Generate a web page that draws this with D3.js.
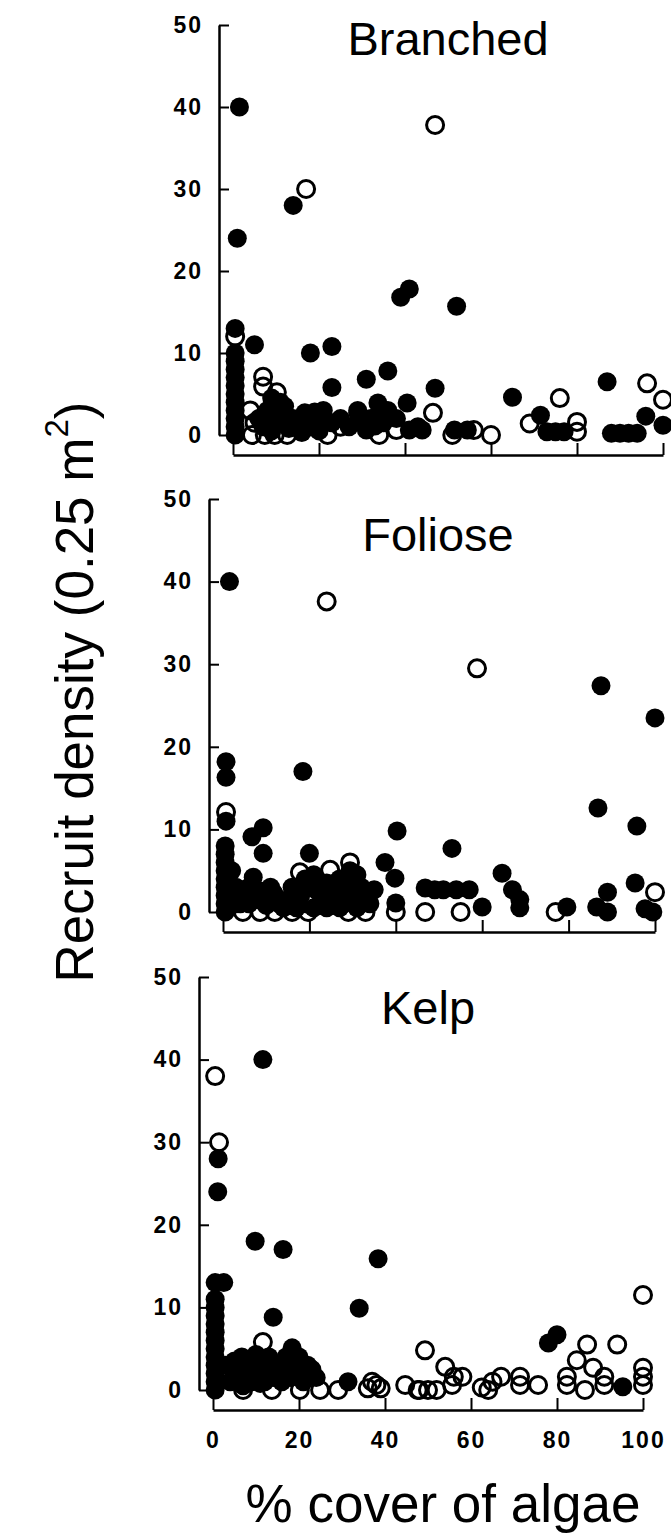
<!DOCTYPE html>
<html>
<head>
<meta charset="utf-8">
<script src="https://cdn.jsdelivr.net/npm/d3@7"></script>
<style>
  body { margin: 0; background: #fff; }
  svg { display: block; }
  .axis path, .axis line { stroke: #000; }
  .axis path { stroke-width: 2.5px; }
  .axis line { stroke-width: 2px; }
  .axis text { font-family: "Liberation Sans", Arial, sans-serif; font-weight: bold;
               font-size: 23px; letter-spacing: 2px; fill: #000; }
  .title { font-family: "Liberation Sans", Arial, sans-serif; font-size: 47px; fill: #000; }
  .label { font-family: "Liberation Sans", Arial, sans-serif; font-size: 53px; fill: #000; }
</style>
</head>
<body>
<script>

// ---- data: [% cover, recruit density] ----

var branchedFilled = [
  [0.5,0],[0.5,1],[0.5,2],[0.5,3],[0.5,4],[0.5,5],[0.5,6],[0.5,7],[0.5,8],[0.5,9],[0.5,10],[0.5,13],
  [1.5,40],[1,24],[14,28],[5,11],[18,10],[23,10.8],[23,5.8],[31,6.8],[36,7.8],
  [39,16.8],[41,17.8],[52,15.7],[47,5.7],[65,4.6],[87,6.5],[96,2.3],[100,1.2],
  [71.5,2.4],[73,0.4],[75,0.4],[77,0.4],[88,0.2],[90,0.2],[92,0.2],[94,0.2],
  [40.5,3.9],[41,0.6],[43,1],[44,0.6],[29,2.7],[33.7,3.9],[33,1.1],[31,0.6],[51.5,0.6],[54.5,0.6],
  [6,2],[8,3],[10,1.5],[12,2.5],[9,0.5],[13,0.8],[11,4],[7,1],[9,4.5],[12,3.5],[14,2],
  [15,1.5],[16.7,2.7],[19,2.8],[21,3],[21,1.5],[20,0.5],[16,0.3],[25,2],[27,1],[29,3],
  [18,1],[23,1.5],[30,1.5],[32,2],[35,1.5],[36,3],[34,2.5],[38,2]
];
var branchedOpen = [
  [0.5,12],[17,30],[47,37.8],[7,7.1],[7,5.9],[10.2,5.2],[4,3],[4.4,0],[7.4,0],[9.7,0],[12.6,0],
  [8,2],[12,1.5],[5,1.5],[25,1],[22,0],[38,0.6],[34,0],[46.5,2.7],[51,0],[56,0.6],[60,0],
  [69,1.4],[76,4.5],[80,1.6],[80,0.4],[96.3,6.3],[100,4.3]
];

var folioseFilled = [
  [0.5,0],[0.5,1],[0.5,2],[0.5,3],[0.5,4],[0.5,5],[0.5,6],[0.5,7],[0.5,8],
  [0.7,11],[0.7,16.3],[0.7,18.2],[1.5,40],
  [18.5,17],[9.3,10.2],[6.7,9.1],[9.3,7.1],[7,4.2],[20,7.1],[29.4,5],[29.4,3.8],
  [37.5,6],[39.8,4.1],[35,2.7],[40,1.1],[40.3,9.8],[53,7.7],[46.8,2.9],[49,2.7],[51,2.7],
  [54,2.7],[57,2.7],[60,0.6],[64.6,4.7],[67,2.7],[68.7,1.5],[68.7,0.5],[79.6,0.6],
  [87.5,27.4],[100,23.5],[86.8,12.6],[95.8,10.4],[89,2.4],[86.5,0.6],[89,0],[95.4,3.5],
  [97.7,0.4],[99.5,0],
  [3,3],[5,2],[8,1.5],[10,0.8],[13,1],[15,1.5],[18,2],[20,3],[22,2.5],[24,3.5],[26,2],
  [28,1],[30,2],[32,1],[14,0.5],[24,0.5],[12,2],[27,4],[31,4.5],[25,1.2],[4,1],[2,5],
  [6,3],[9,2.5],[11,3],[16,3],[19,4],[21,4.5],[23,2],[26,3.5],[28,3],[30,3],[32,3],
  [33,2],[34,1],[17,0.5],[21,0.5],[27,0.5],[31,0.5],[6,1],[3,1],[2,2.5]
];
var folioseOpen = [
  [0.7,12.1],[24,37.6],[58.8,29.5],[17.8,4.8],[24.8,5.1],[29.4,6],[11.6,2.3],
  [4.6,0],[8.6,0],[12,0],[16,0],[19.7,0],[29,0],[33,0],[17,1],[19.6,1],
  [40,0],[46.8,0],[55,0],[77,0],[100,2.4]
];

var kelpFilled = [
  [0.5,0],[0.5,1],[0.5,2],[0.5,3],[0.5,4],[0.5,5],[0.5,6],[0.5,7],[0.5,8],[0.5,9],[0.5,10],[0.5,11],[0.5,13],
  [2.5,13],[1.2,28],[1.1,24],[11.6,40],[9.8,18],[16.3,17],[38.4,15.9],[34,9.9],[14,8.8],
  [78,5.7],[80,6.7],[95.3,0.4],[31.4,1],
  [6.7,4],[18.4,5.1],[22,3],[12,3],[16,3],[5,2],[8,3],[10,2],[14,1.5],[18,1.5],[20,2],
  [4,1],[9,1],[13,4],[17,4],[24,1.5],[7,0.5],[11,0.8],
  [3,3],[5,3.5],[7,2.5],[9,3],[11,2],[12,1],[15,2.5],[16,1],[19,3],[21,1],[23,2.5],[20,4],[10,4.3]
];
var kelpOpen = [
  [0.5,38],[1.4,30],[11.6,5.8],[100,11.5],[49.3,4.8],[87,5.5],[94,5.5],[84.6,3.6],[88.4,2.7],
  [91,1.6],[91,0.6],[100,2.7],[100,1.6],[100,0.6],[82.3,1.6],[82.3,0.6],[86.5,0],
  [54,2.8],[56,1.6],[58,1.6],[55.6,0.6],[48,0],[50,0],[52,0],[62.5,0.3],[64,0],[65,1],
  [67,1.6],[71.4,1.6],[71.4,0.6],[75.6,0.6],[7,0],[13.7,0],[20.2,0],[24.9,0],[29.1,0],
  [36,0.2],[37,1],[39,0.2],[38,0.6],[44.7,0.6],[47.6,0]
];

var panelNames = ['Branched', 'Foliose', 'Kelp'];
var xTicks = [0, 20, 40, 60, 80, 100];
var yTicks = [0, 10, 20, 30, 40, 50];
var xLabel = '% cover of algae';

// ---- layout (pixel placement of each panel) ----
var layout = [
  { filled: branchedFilled, open: branchedOpen, x0: 233, x1: 663, y0: 435, y1: 25,  titleX: 448, titleY: 55 },
  { filled: folioseFilled,  open: folioseOpen,  x0: 223, x1: 655, y0: 912, y1: 499, titleX: 438, titleY: 551 },
  { filled: kelpFilled,     open: kelpOpen,     x0: 213, x1: 643, y0: 1390, y1: 977, titleX: 428, titleY: 1024 }
];

var width = 671, height = 1540;

var svg = d3.select('body').append('svg')
    .attr('width', width)
    .attr('height', height);

layout.forEach(function(p, i) {

    var xScale = d3.scaleLinear().domain([0, 100]).range([p.x0, p.x1]);
    var yScale = d3.scaleLinear().domain([0, 50]).range([p.y0, p.y1]);
    var last = (i === layout.length - 1);

    var g = svg.append('g');

    // y axis, detached to the left, ticks point inward
    g.append('g')
        .attr('class', 'axis')
        .attr('transform', 'translate(' + (p.x0 - 14) + ',0)')
        .call(d3.axisLeft(yScale)
            .tickValues(yTicks)
            .tickSizeInner(-10)
            .tickSizeOuter(0)
            .tickPadding(16));

    // x axis, detached below, ticks point up
    g.append('g')
        .attr('class', 'axis')
        .attr('transform', 'translate(0,' + (p.y0 + 20) + ')')
        .call(d3.axisBottom(xScale)
            .tickValues(xTicks)
            .tickSizeInner(-12)
            .tickSizeOuter(0)
            .tickPadding(22)
            .tickFormat(last ? d3.format('d') : ''));

    g.selectAll('.axis .domain').attr('fill', 'none');

    g.append('text')
        .attr('class', 'title')
        .attr('x', p.titleX)
        .attr('y', p.titleY)
        .attr('text-anchor', 'middle')
        .text(panelNames[i]);

    // open symbols first, filled drawn on top
    g.selectAll('circle.open')
        .data(p.open)
        .enter().append('circle')
        .attr('class', 'open')
        .attr('cx', function(d) { return xScale(d[0]); })
        .attr('cy', function(d) { return yScale(d[1]); })
        .attr('r', 8.5)
        .attr('fill', 'none')
        .attr('stroke', '#000')
        .attr('stroke-width', 3);

    g.selectAll('circle.filled')
        .data(p.filled)
        .enter().append('circle')
        .attr('class', 'filled')
        .attr('cx', function(d) { return xScale(d[0]); })
        .attr('cy', function(d) { return yScale(d[1]); })
        .attr('r', 9.5)
        .attr('fill', '#000');
});

// shared axis titles
svg.append('text')
    .attr('class', 'label')
    .attr('x', 443)
    .attr('y', 1522)
    .attr('text-anchor', 'middle')
    .text(xLabel);

var yLab = svg.append('text')
    .attr('class', 'label')
    .attr('font-size', '55px')
    .attr('transform', 'translate(93,692) rotate(-90)')
    .attr('text-anchor', 'middle');
yLab.append('tspan').text('Recruit density (0.25 m');
yLab.append('tspan').attr('font-size', '33px').attr('dy', '-25').text('2');
yLab.append('tspan').attr('dy', '25').text(')');

</script>
</body>
</html>
